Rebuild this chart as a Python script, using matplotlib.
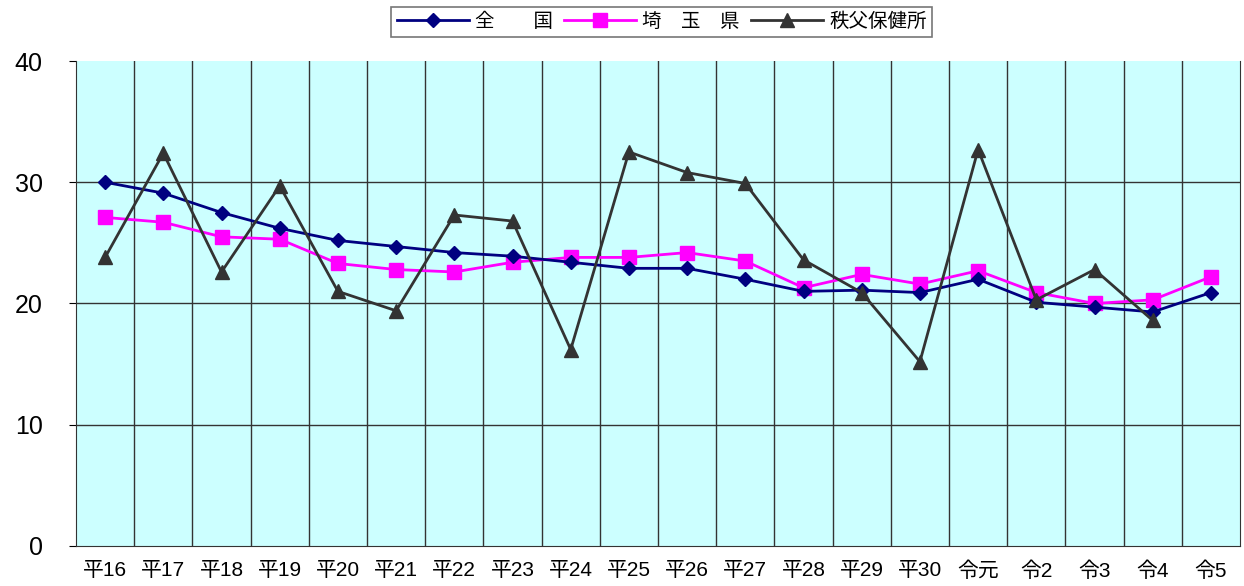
import numpy as np
import matplotlib.pyplot as plt

plt.rcParams['font.family'] = ['Liberation Sans', 'Noto Sans CJK JP', 'DejaVu Sans']

# 年度ラベル
years = ["平16", "平17", "平18", "平19", "平20", "平21", "平22", "平23", "平24", "平25",
         "平26", "平27", "平28", "平29", "平30", "令元", "令2", "令3", "令4", "令5"]

zenkoku = [30.0, 29.1, 27.5, 26.2, 25.2, 24.7, 24.2, 23.9, 23.4, 22.9,
           22.9, 22.0, 21.0, 21.1, 20.9, 22.0, 20.1, 19.7, 19.3, 20.9]
saitama = [27.1, 26.7, 25.5, 25.3, 23.3, 22.8, 22.6, 23.4, 23.8, 23.8,
           24.2, 23.5, 21.3, 22.4, 21.6, 22.7, 20.9, 20.0, 20.3, 22.2]
chichibu = [23.8, 32.4, 22.6, 29.7, 21.0, 19.4, 27.3, 26.8, 16.2, 32.5,
            30.8, 29.9, 23.6, 20.9, 15.2, 32.7, 20.3, 22.8, 18.6, np.nan]

x = np.arange(len(years))

fig = plt.figure(figsize=(12.44, 5.86), dpi=100)
ax = fig.add_axes([0.0611, 0.0683, 0.9357, 0.8276])
ax.set_facecolor("#CCFFFF")

ax.plot(x, zenkoku, color="#000080", marker="D", markersize=7, linewidth=2,
        label="全　　国", zorder=4)
ax.plot(x, saitama, color="#FF00FF", marker="s", markersize=10, linewidth=2,
        label="埼　玉　県", zorder=3)
ax.plot(x, chichibu, color="#333333", marker="^", markersize=10, linewidth=2,
        label="秩父保健所", zorder=5)

ax.set_xlim(-0.5, len(years) - 0.5)
ax.set_ylim(0, 40)
ax.set_yticks([0, 10, 20, 30, 40])
ax.set_xticks(x)
ax.set_xticklabels(years, fontsize=15)
ax.tick_params(axis="y", labelsize=18, length=5, pad=19)
ax.tick_params(axis="x", length=0, pad=11)

# 区切り線と目盛線
for b in np.arange(0.5, len(years) - 0.5, 1):
    ax.axvline(b, color="#333333", linewidth=1, zorder=1)
for v in [10, 20, 30]:
    ax.axhline(v, color="#333333", linewidth=1, zorder=1)

ax.spines["top"].set_visible(False)
for s in ["left", "right", "bottom"]:
    ax.spines[s].set_color("#333333")

leg = fig.legend(loc="upper center", bbox_to_anchor=(0.532, 1.005), ncol=3,
                 fontsize=14, frameon=True, fancybox=False, edgecolor="#555555",
                 handlelength=3.7, handletextpad=0.3, columnspacing=0.6,
                 borderpad=0.3)
leg.get_frame().set_linewidth(1.2)

plt.savefig("out.png", dpi=100)
